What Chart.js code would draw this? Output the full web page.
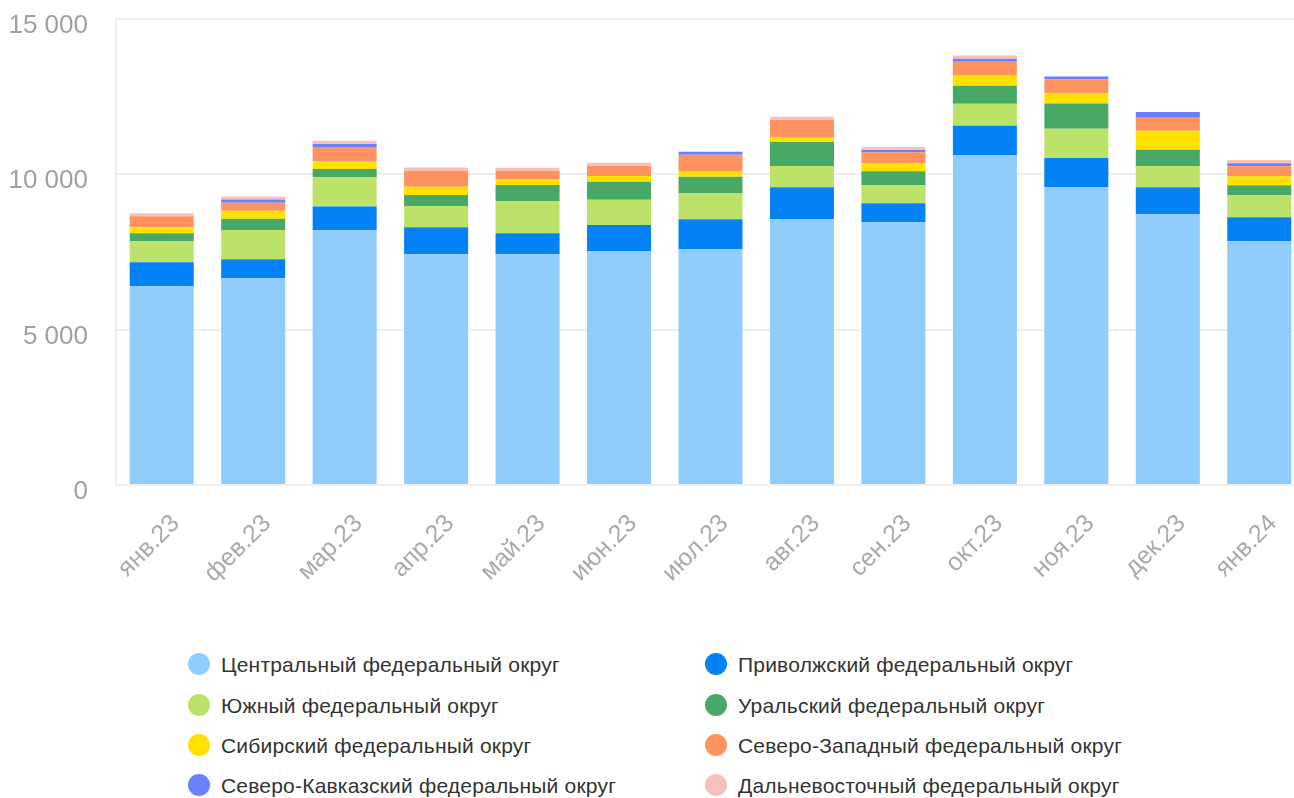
<!DOCTYPE html>
<html><head><meta charset="utf-8">
<script src="https://cdn.jsdelivr.net/npm/chart.js@4"></script>
<style>
html,body{margin:0;padding:0;background:#fff;}
#wrap{position:relative;width:1294px;height:798px;overflow:hidden;}
#c{position:absolute;left:0;top:-25px;}
.lg{position:absolute;font-family:"Liberation Sans",Arial,sans-serif;font-size:21px;letter-spacing:0.2px;color:#333;white-space:nowrap;line-height:24px;}
.lg i{position:absolute;left:-33px;top:0px;width:22px;height:22px;border-radius:50%;}
</style></head>
<body><div id="wrap"><canvas id="c" width="1310" height="625"></canvas><div id="legend"></div></div>
<script>
const categories = ["янв.23","фев.23","мар.23","апр.23","май.23","июн.23","июл.23","авг.23","сен.23","окт.23","ноя.23","дек.23","янв.24"];
const seriesNames = ["Центральный федеральный округ","Приволжский федеральный округ","Южный федеральный округ","Уральский федеральный округ","Сибирский федеральный округ","Северо-Западный федеральный округ","Северо-Кавказский федеральный округ","Дальневосточный федеральный округ"];
const central   = [6390,6650,8190,7420,7420,7520,7580,8550,8450,10610,9580,8710,7840];
const privolzh  = [770,610,770,870,680,840,970,1030,610,940,940,870,770];
const south     = [680,940,940,680,1030,810,840,680,580,710,940,680,710];
const ural      = [260,360,260,360,520,580,520,770,450,580,810,520,320];
const siberia   = [190,260,260,260,190,190,190,160,260,350,320,610,290];
const northwest = [350,260,450,520,260,320,520,550,350,420,450,420,320];
const ncaucasus = [0,100,100,0,0,0,100,0,70,100,100,190,100];
const fareast   = [100,100,100,100,100,100,0,100,100,100,0,0,100];
const yTicks = [0,5000,10000,15000];
const colors = ["#90cdfd","#0381f5","#bde26a","#48a866","#ffe100","#ff935f","#6a80ff","#f8bfbf"];
const values = [central,privolzh,south,ural,siberia,northwest,ncaucasus,fareast];

const datasets = values.map((v,i)=>({label:seriesNames[i],data:v,backgroundColor:colors[i],borderWidth:0,barPercentage:0.70,categoryPercentage:1.0,stack:'s'}));

new Chart(document.getElementById('c'),{
  type:'bar',
  data:{labels:categories,datasets},
  options:{
    responsive:false,animation:false,
    layout:{padding:{top:0,right:5,left:0,bottom:0}},
    plugins:{legend:{display:false},tooltip:{enabled:false}},
    scales:{
      x:{stacked:true,grid:{display:false,drawTicks:false},border:{color:'#eeeeee',width:2},
         afterFit:(s)=>{s.height=115;},
         ticks:{color:'#aaaaaa',font:{family:'"Liberation Sans", Arial, sans-serif',size:25},minRotation:45,maxRotation:45,padding:24,labelOffset:14}},
      y:{stacked:true,min:0,max:15000,afterBuildTicks:(ax)=>{ax.ticks=yTicks.map(v=>({value:v}));},
         afterFit:(s)=>{s.width=116;},
         grid:{color:'#eeeeee',lineWidth:2,drawTicks:false},border:{color:'#eeeeee',width:2},
         ticks:{color:'#a0a0a0',padding:28,labelOffset:7,font:{family:'"Liberation Sans", Arial, sans-serif',size:26},
           callback:(v)=>String(v).replace(/\B(?=(\d{3})+(?!\d))/g,' ')}}
    }
  }
});

const lg=document.getElementById('legend');
const colX=[221,738], rowY=[653,694,734,774];
seriesNames.forEach((n,i)=>{
  const d=document.createElement('div');d.className='lg';
  d.style.left=colX[i%2]+'px';d.style.top=rowY[Math.floor(i/2)]+'px';
  d.innerHTML='<i style="background:'+colors[i]+'"></i>'+n;lg.appendChild(d);
});
</script></body></html>
